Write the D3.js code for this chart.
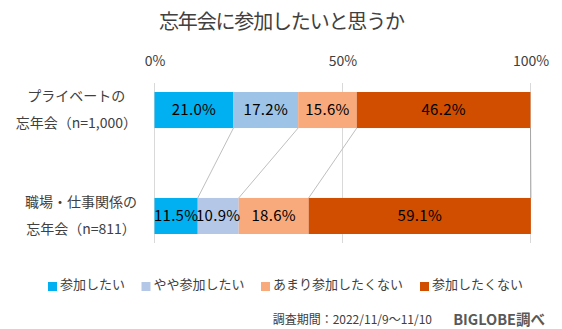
<!DOCTYPE html>
<html>
<head>
<meta charset="utf-8">
<script src="https://cdn.jsdelivr.net/npm/d3@7"></script>
<style>
  html, body { margin: 0; padding: 0; background: #fff; }
  svg { display: block; font-family: "Noto Sans CJK JP", "Noto Sans", sans-serif; }
</style>
</head>
<body>
<svg id="chart" width="562" height="329"></svg>
<script>
// Survey groups (two-line labels) and answer categories
const groupLines = [
  ["プライベートの", "忘年会（n=1,000）"],
  ["職場・仕事関係の", "忘年会（n=811）"]
];
const answers = ["参加したい", "やや参加したい", "あまり参加したくない", "参加したくない"];

// Percentages per answer, one value per group
const wantTo       = [21.0, 11.5];
const somewhatWant = [17.2, 10.9];
const ratherNot    = [15.6, 18.6];
const doNotWant    = [46.2, 59.1];
const seriesValues = [wantTo, somewhatWant, ratherNot, doNotWant];

const tickValues = [0, 50, 100];
const tickLabels = ["0%", "50%", "100%"];

const legendColors = ["#00B0F0", "#B4C7E7", "#F8AA7C", "#D14E00"];
// the private-party row uses a slightly deeper light blue for the second answer
const rowColors = [
  ["#00B0F0", "#9DC3E6", "#F8AA7C", "#D14E00"],
  ["#00B0F0", "#B4C7E7", "#F8AA7C", "#D14E00"]
];

const svg = d3.select("#chart");
const textGray = "#404040";

// Title
svg.append("text")
  .attr("x", 282).attr("y", 29)
  .attr("text-anchor", "middle")
  .attr("font-size", 20)
  .attr("textLength", 246)
  .attr("lengthAdjust", "spacing")
  .attr("fill", textGray)
  .text("忘年会に参加したいと思うか");

const x = d3.scaleLinear().domain([0, 100]).range([154.5, 530.5]);
const y = d3.scaleBand().domain(d3.range(groupLines.length)).range([92, 234]).paddingInner(0.66).paddingOuter(0);

// Gridlines
svg.append("g").selectAll("line").data(tickValues).join("line")
  .attr("x1", d => x(d)).attr("x2", d => x(d))
  .attr("y1", 83).attr("y2", 243)
  .attr("stroke", "#D9D9D9").attr("stroke-width", 1);

// Top axis labels
const axis = d3.axisTop(x).tickValues(tickValues).tickFormat((d, i) => tickLabels[i]).tickSize(0).tickPadding(0);
const axisG = svg.append("g").attr("transform", "translate(0,66)").call(axis);
axisG.select(".domain").remove();
axisG.selectAll("text").attr("font-size", 14).attr("fill", textGray)
  .attr("font-family", "\"Noto Sans CJK JP\", sans-serif");

// Stack data
const rows = groupLines.map((g, gi) => {
  let acc = 0;
  return seriesValues.map((s, si) => {
    const seg = { gi, si, x0: acc, x1: acc + s[gi], v: s[gi] };
    acc += s[gi];
    return seg;
  });
});

// Connector lines between segment boundaries of the two rows
const boundaries = d3.range(answers.length).map(si => ({
  a: rows[0][si].x1, b: rows[1][si].x1, last: si === answers.length - 1
}));
svg.append("g").selectAll("line").data(boundaries).join("line")
  .attr("x1", d => x(d.a)).attr("y1", y(0) + y.bandwidth())
  .attr("x2", d => x(d.b)).attr("y2", y(1))
  .attr("stroke", d => d.last ? "#A6A6A6" : "#BFBFBF").attr("stroke-width", 1);

// Bars
const segs = rows.flat();
svg.append("g").selectAll("rect").data(segs).join("rect")
  .attr("x", d => x(d.x0))
  .attr("width", d => x(d.x1) - x(d.x0))
  .attr("y", d => y(d.gi))
  .attr("height", y.bandwidth())
  .attr("fill", d => rowColors[d.gi][d.si]);

// Value labels
svg.append("g").selectAll("text").data(segs).join("text")
  .attr("x", d => (x(d.x0) + x(d.x1)) / 2)
  .attr("y", d => y(d.gi) + y.bandwidth() / 2)
  .attr("dy", "0.36em")
  .attr("text-anchor", "middle")
  .attr("font-size", 15)
  .attr("letter-spacing", 0.3)
  .attr("fill", "#000")
  .text(d => d.v.toFixed(1) + "%");

// Category labels: two centred lines, block right-aligned
groupLines.forEach((lines, gi) => {
  const g = svg.append("g");
  const mid = y(gi) + y.bandwidth() / 2;
  const ts = lines.map((t, li) => g.append("text")
    .attr("y", mid + (li === 0 ? -9 : 18))
    .attr("font-size", 14)
    .attr("fill", textGray)
    .attr("text-anchor", "middle")
    .text(t));
  const maxW = d3.max(ts, t => t.node().getComputedTextLength());
  ts.forEach(t => t.attr("x", 137 - maxW / 2));
});

// Legend
const legendX = [48, 141.5, 261, 420];
const lg = svg.append("g").selectAll("g").data(answers).join("g")
  .attr("transform", (d, i) => `translate(${legendX[i]},282)`);
lg.append("rect").attr("width", 9).attr("height", 9).attr("fill", (d, i) => legendColors[i]);
lg.append("text").attr("x", 12).attr("y", 7).attr("font-size", 13).attr("fill", textGray).text(d => d);

// Footer
svg.append("text").attr("x", 432).attr("y", 324).attr("text-anchor", "end")
  .attr("font-size", 12).attr("fill", textGray).text("調査期間：2022/11/9～11/10");
svg.append("text").attr("x", 545).attr("y", 325).attr("text-anchor", "end")
  .attr("font-size", 14.5).attr("font-weight", "bold").attr("fill", "#595959").text("BIGLOBE調べ");
</script>
</body>
</html>
